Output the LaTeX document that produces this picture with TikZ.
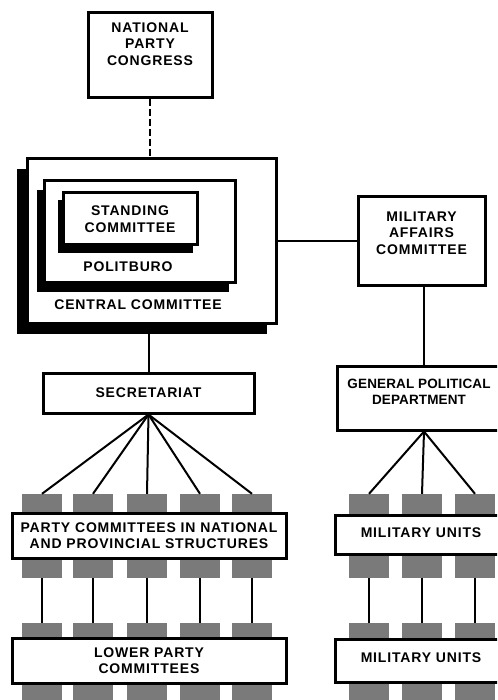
\documentclass[tikz,border=0pt]{standalone}
\usepackage{fontspec}
\setmainfont{Liberation Sans}[LetterSpace=6]
\usetikzlibrary{calc}
\begin{document}
\begin{tikzpicture}[x=1pt,y=-1pt,
  box/.style={draw=black, line width=3pt, fill=white, inner sep=0pt, align=center,
    font=\bfseries\fontsize{14}{16.5}\selectfont},
  shadowbox/.style={fill=black, draw=black, inner sep=0pt},
  lbl/.style={inner sep=0pt, align=center, font=\bfseries\fontsize{14}{16.5}\selectfont},
  conn/.style={line width=2pt},
  graybar/.style={fill=black!52, inner sep=0pt, minimum width=40pt}]
\useasboundingbox (0,0) rectangle (497,700);
\clip (0,0) rectangle (497,700);
\fill[white] (0,0) rectangle (497,700);

% gray bars
\foreach \i/\x in {1/42,2/93,3/147,4/200,5/252}{
  \node[graybar, minimum height=84pt] (g\i) at (\x,536) {};
  \node[graybar, minimum height=82pt] (h\i) at (\x,664) {};
}
\foreach \i/\x in {1/369,2/422,3/475}{
  \node[graybar, minimum height=84pt] (rg\i) at (\x,536) {};
  \node[graybar, minimum height=82pt] (rh\i) at (\x,664) {};
}

% National Party Congress
\node[box, minimum width=124pt, minimum height=85pt] (npc) at (150,55.5) {};
\node[lbl] (npct) at (150,44) {NATIONAL\\PARTY\\CONGRESS};

% Central Committee
\node[shadowbox, minimum width=249pt, minimum height=164pt] (ccs) at (141.5,251) {};
\node[box, minimum width=249pt, minimum height=164pt] (cc) at (151.5,241) {};
\node[lbl] (cct) at (138,305) {CENTRAL COMMITTEE};

% Politburo
\node[shadowbox, minimum width=191pt, minimum height=101pt] (pbs) at (132.5,240.5) {};
\node[box, minimum width=191pt, minimum height=101pt] (pb) at (139.5,231.5) {};
\node[lbl] (pbt) at (128,267) {POLITBURO};

% Standing Committee
\node[shadowbox, minimum width=134pt, minimum height=52pt] (scs) at (125,226) {};
\node[box, minimum width=134pt, minimum height=52pt] (sc) at (130,219) {STANDING\\COMMITTEE};

% Military Affairs Committee
\node[box, minimum width=127pt, minimum height=88pt] (mac) at (421.5,241) {};
\node[lbl] (mact) at (421.5,233) {MILITARY\\AFFAIRS\\COMMITTEE};

% Secretariat
\node[box, minimum width=211pt, minimum height=40pt] (sec) at (148.5,393) {SECRETARIAT};

% General Political Department
\node[box, minimum width=168pt, minimum height=64pt] (gpd) at (421,398) {};
\node[lbl, font=\bfseries\fontsize{13.5}{16.5}\selectfont\addfontfeatures{LetterSpace=1}] (gpdt) at (419,392) {GENERAL POLITICAL\\DEPARTMENT};

% Party committees
\node[box, minimum width=274pt, minimum height=45pt] (pcn) at (149,535.5) {PARTY COMMITTEES IN NATIONAL\\AND PROVINCIAL STRUCTURES};
\node[box, minimum width=274pt, minimum height=45pt] (lpc) at (149,660.5) {LOWER PARTY\\COMMITTEES};

% Military units
\node[box, minimum width=170pt, minimum height=39pt] (mu1) at (420,534.5) {};
\node[lbl] (mu1t) at (421,533) {MILITARY UNITS};
\node[box, minimum width=170pt, minimum height=43pt] (mu2) at (420,660.5) {};
\node[lbl] (mu2t) at (421,658) {MILITARY UNITS};

% connectors
\draw[line width=2.6pt, dash pattern=on 7pt off 3pt] (npc.south) -- (npc.south |- cc.north);
\draw[conn] (cc.east) -- (mac.west);
\draw[conn] (sec.north) -- (sec.north |- ccs.south);
\draw[conn] ($(gpd.north)+(3,0)$) -- ($(mac.south)+(2.5,0)$);
\foreach \i in {1,...,5}{
  \draw[conn] (sec.south) -- (g\i.north);
  \draw[conn] (g\i.south) -- (h\i.north);
}
\foreach \i in {1,2,3}{
  \draw[conn] ($(gpd.south)+(3,0)$) -- (rg\i.north);
  \draw[conn] (rg\i.south) -- (rh\i.north);
}
\end{tikzpicture}
\end{document}
